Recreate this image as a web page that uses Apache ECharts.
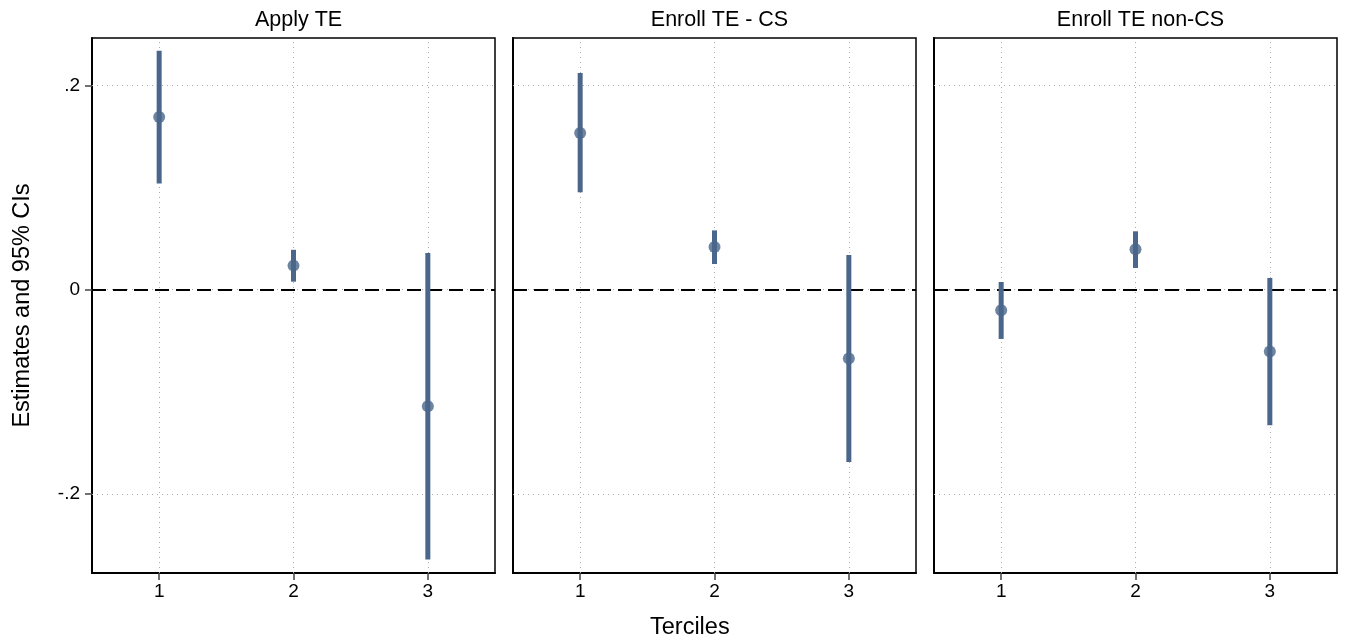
<!DOCTYPE html>
<html>
<head>
<meta charset="utf-8">
<script src="https://cdn.jsdelivr.net/npm/echarts@6/dist/echarts.min.js"></script>
<style>
  html, body { margin: 0; padding: 0; background: #fff; }
  #chart { width: 1346px; height: 643px; }
</style>
</head>
<body>
<div id="chart"></div>
<script>
// Panel titles and tercile positions
const panels = ['Apply TE', 'Enroll TE - CS', 'Enroll TE non-CS'];
const terciles = [1, 2, 3];
const xTitle = 'Terciles';
const yTitle = 'Estimates and 95% CIs';

// Point estimates and 95% confidence bounds, one array per panel
const estApply = [0.169, 0.0235, -0.1142];
const loApply  = [0.1038, 0.0078, -0.2643];
const hiApply  = [0.234, 0.039, 0.0359];

const estCS = [0.1534, 0.0418, -0.0675];
const loCS  = [0.0953, 0.0251, -0.1687];
const hiCS  = [0.2121, 0.058, 0.034];

const estNonCS = [-0.0203, 0.0395, -0.0607];
const loNonCS  = [-0.0483, 0.0212, -0.1328];
const hiNonCS  = [0.0075, 0.0571, 0.0114];

// Axis ticks
const yTicks = [-0.2, 0, 0.2];
const yTickLabels = ['-.2', '0', '.2'];
const xTicks = [1, 2, 3];

const panelData = [
  { est: estApply, lo: loApply, hi: hiApply },
  { est: estCS, lo: loCS, hi: hiCS },
  { est: estNonCS, lo: loNonCS, hi: hiNonCS }
];

const MARK = '#4a678b';
const FONT = 'Liberation Sans, Arial, sans-serif';
const lefts = [92, 513, 934];
const W = 403, TOP = 38, H = 535;

const option = {
  backgroundColor: '#fff',
  animation: false,
  title: panels.map((t, i) => ({
    text: t,
    left: lefts[i] + W / 2,
    top: 4,
    textAlign: 'center',
    textStyle: { fontFamily: FONT, fontSize: 21.5, fontWeight: 'normal', color: '#000' }
  })),
  // shared x-axis title below the panels
  graphic: [{
    type: 'text', left: 691 - 41, top: 616,
    style: { text: xTitle, fontFamily: FONT, fontSize: 23.5, fill: '#000' }
  }],
  grid: lefts.map(l => ({
    left: l, top: TOP, width: W, height: H,
    show: true, borderColor: '#000', borderWidth: 1.5, backgroundColor: '#fff'
  })),
  xAxis: lefts.map((l, i) => ({
    gridIndex: i, type: 'value', min: 0.5, max: 3.5,
    axisLine: { show: true, onZero: false, lineStyle: { color: '#000', width: 2 } },
    axisTick: { show: true, customValues: xTicks, length: 7, lineStyle: { color: '#444', width: 1.5 } },
    axisLabel: { show: true, customValues: xTicks, formatter: v => String(v), margin: 9,
      fontFamily: FONT, fontSize: 19, color: '#000' },
    splitLine: { show: false }
  })),
  yAxis: lefts.map((l, i) => ({
    gridIndex: i, type: 'value', min: -0.2775, max: 0.2464,
    name: i === 0 ? yTitle : '',
    nameLocation: 'middle', nameGap: 57, nameRotate: 90,
    nameTextStyle: { fontFamily: FONT, fontSize: 23.5, color: '#000' },
    axisLine: { show: true, lineStyle: { color: '#000', width: 2 } },
    axisTick: { show: i === 0, customValues: yTicks, length: 7, lineStyle: { color: '#444', width: 1.5 } },
    axisLabel: { show: i === 0, customValues: yTicks, margin: 12,
      formatter: v => yTickLabels[yTicks.findIndex(t => Math.abs(t - v) < 1e-9)] ?? '',
      fontFamily: FONT, fontSize: 19, color: '#000' },
    splitLine: { show: false }
  })),
  series: []
};

panelData.forEach((p, i) => {
  // dotted grid lines at each tick
  option.series.push({
    type: 'line', xAxisIndex: i, yAxisIndex: i, data: [], silent: true, z: 1,
    markLine: {
      z: 1, silent: true, symbol: 'none', label: { show: false },
      lineStyle: { color: '#ababab', width: 1, type: [1, 4] },
      data: yTicks.map(v => ({ yAxis: v })).concat(xTicks.map(v => ({ xAxis: v })))
    }
  });
  // dashed reference line at zero
  option.series.push({
    type: 'line', xAxisIndex: i, yAxisIndex: i, data: [], silent: true, z: 2,
    markLine: {
      z: 2, silent: true, symbol: 'none', label: { show: false },
      lineStyle: { color: '#000', width: 2, type: [14, 7] },
      data: [{ yAxis: 0 }]
    }
  });
  // confidence interval bars
  option.series.push({
    type: 'custom', xAxisIndex: i, yAxisIndex: i, z: 3,
    data: terciles.map((x, k) => [x, p.lo[k], p.hi[k]]),
    renderItem: (params, api) => {
      const a = api.coord([api.value(0), api.value(1)]);
      const b = api.coord([api.value(0), api.value(2)]);
      return {
        type: 'line',
        shape: { x1: a[0], y1: a[1], x2: b[0], y2: b[1] },
        style: { stroke: MARK, lineWidth: 5 }
      };
    }
  });
  // point estimates
  option.series.push({
    type: 'scatter', xAxisIndex: i, yAxisIndex: i, z: 4,
    data: terciles.map((x, k) => [x, p.est[k]]),
    symbol: 'circle', symbolSize: 12,
    itemStyle: { color: MARK }
  });
});

const chart = echarts.init(document.getElementById('chart'), null, { renderer: 'canvas' });
chart.setOption(option);
</script>
</body>
</html>
